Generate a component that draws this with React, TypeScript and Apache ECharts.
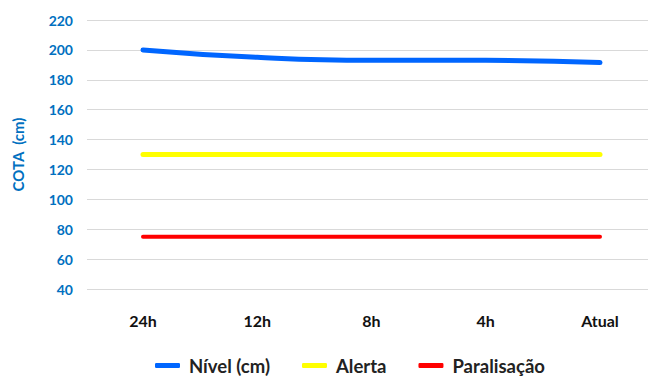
import React, { useEffect, useRef } from "react";
import * as echarts from "echarts";

const categories = ["24h", "12h", "8h", "4h", "Atual"];
const nivel = [200, 195, 193, 193, 191.5];
const alerta = [130, 130, 130, 130, 130];
const paralisacao = [75, 75, 75, 75, 75];
const yMin = 40;
const yMax = 220;
const yInterval = 20;

const FONT = "Lato, 'Open Sans', sans-serif";

export default function App() {
  const ref = useRef<HTMLDivElement>(null);
  useEffect(() => {
    if (!ref.current) return;
    const chart = echarts.init(ref.current, null, { renderer: "svg" });
    const lineSeries = (name: string, data: number[], color: string, width: number, smooth: boolean) => ({
      name,
      type: "line",
      xAxisIndex: 1,
      yAxisIndex: 1,
      data,
      smooth,
      symbol: "none",
      lineStyle: { color, width, cap: "round", join: "round" },
      itemStyle: { color },
    });
    chart.setOption({
      animation: false,
      backgroundColor: "#ffffff",
      grid: [
        { left: 87, right: 0, top: 20, bottom: 92 },
        { left: 143, right: 48, top: 20, bottom: 92 },
      ],
      legend: {
        bottom: 1,
        left: 150,
        itemWidth: 25,
        itemHeight: 5,
        itemGap: 32,
        icon: "roundRect",
        textStyle: {
          fontFamily: FONT,
          fontWeight: "bold",
          fontSize: 18.5,
          color: "#222222",
          padding: [0, 0, 0, 4],
        },
        data: ["Nível (cm)", "Alerta", "Paralisação"],
      },
      xAxis: [
        {
          type: "value",
          gridIndex: 0,
          show: false,
          min: 0,
          max: 1,
        },
        {
          type: "category",
          gridIndex: 1,
          data: categories,
          boundaryGap: false,
          axisLine: { show: false },
          axisTick: { show: false },
          splitLine: { show: false },
          axisLabel: {
            margin: 23,
            fontFamily: FONT,
            fontWeight: "bold",
            fontSize: 16,
            color: "#111111",
          },
        },
      ],
      yAxis: [
        {
          type: "value",
          gridIndex: 0,
          min: yMin,
          max: yMax,
          interval: yInterval,
          name: "COTA  (cm)",
          nameLocation: "middle",
          nameGap: 62,
          nameRotate: 90,
          nameTextStyle: {
            fontFamily: FONT,
            fontWeight: "bold",
            fontSize: 15,
            color: "#0070C0",
          },
          axisLine: { show: false },
          axisTick: { show: false },
          splitLine: { lineStyle: { color: "#d9d9d9", width: 1 } },
          axisLabel: {
            margin: 14,
            fontFamily: FONT,
            fontWeight: "bold",
            fontSize: 14,
            color: "#0070C0",
          },
        },
        {
          type: "value",
          gridIndex: 1,
          min: yMin,
          max: yMax,
          interval: yInterval,
          show: false,
          splitLine: { show: false },
        },
      ],
      series: [
        lineSeries("Nível (cm)", nivel, "#0066FF", 5, true),
        lineSeries("Alerta", alerta, "#FFFF00", 5, false),
        lineSeries("Paralisação", paralisacao, "#FF0000", 4, false),
      ],
    });
    return () => chart.dispose();
  }, []);
  return <div ref={ref} style={{ width: 648, height: 381, position: "absolute", left: 0, top: 0 }} />;
}
